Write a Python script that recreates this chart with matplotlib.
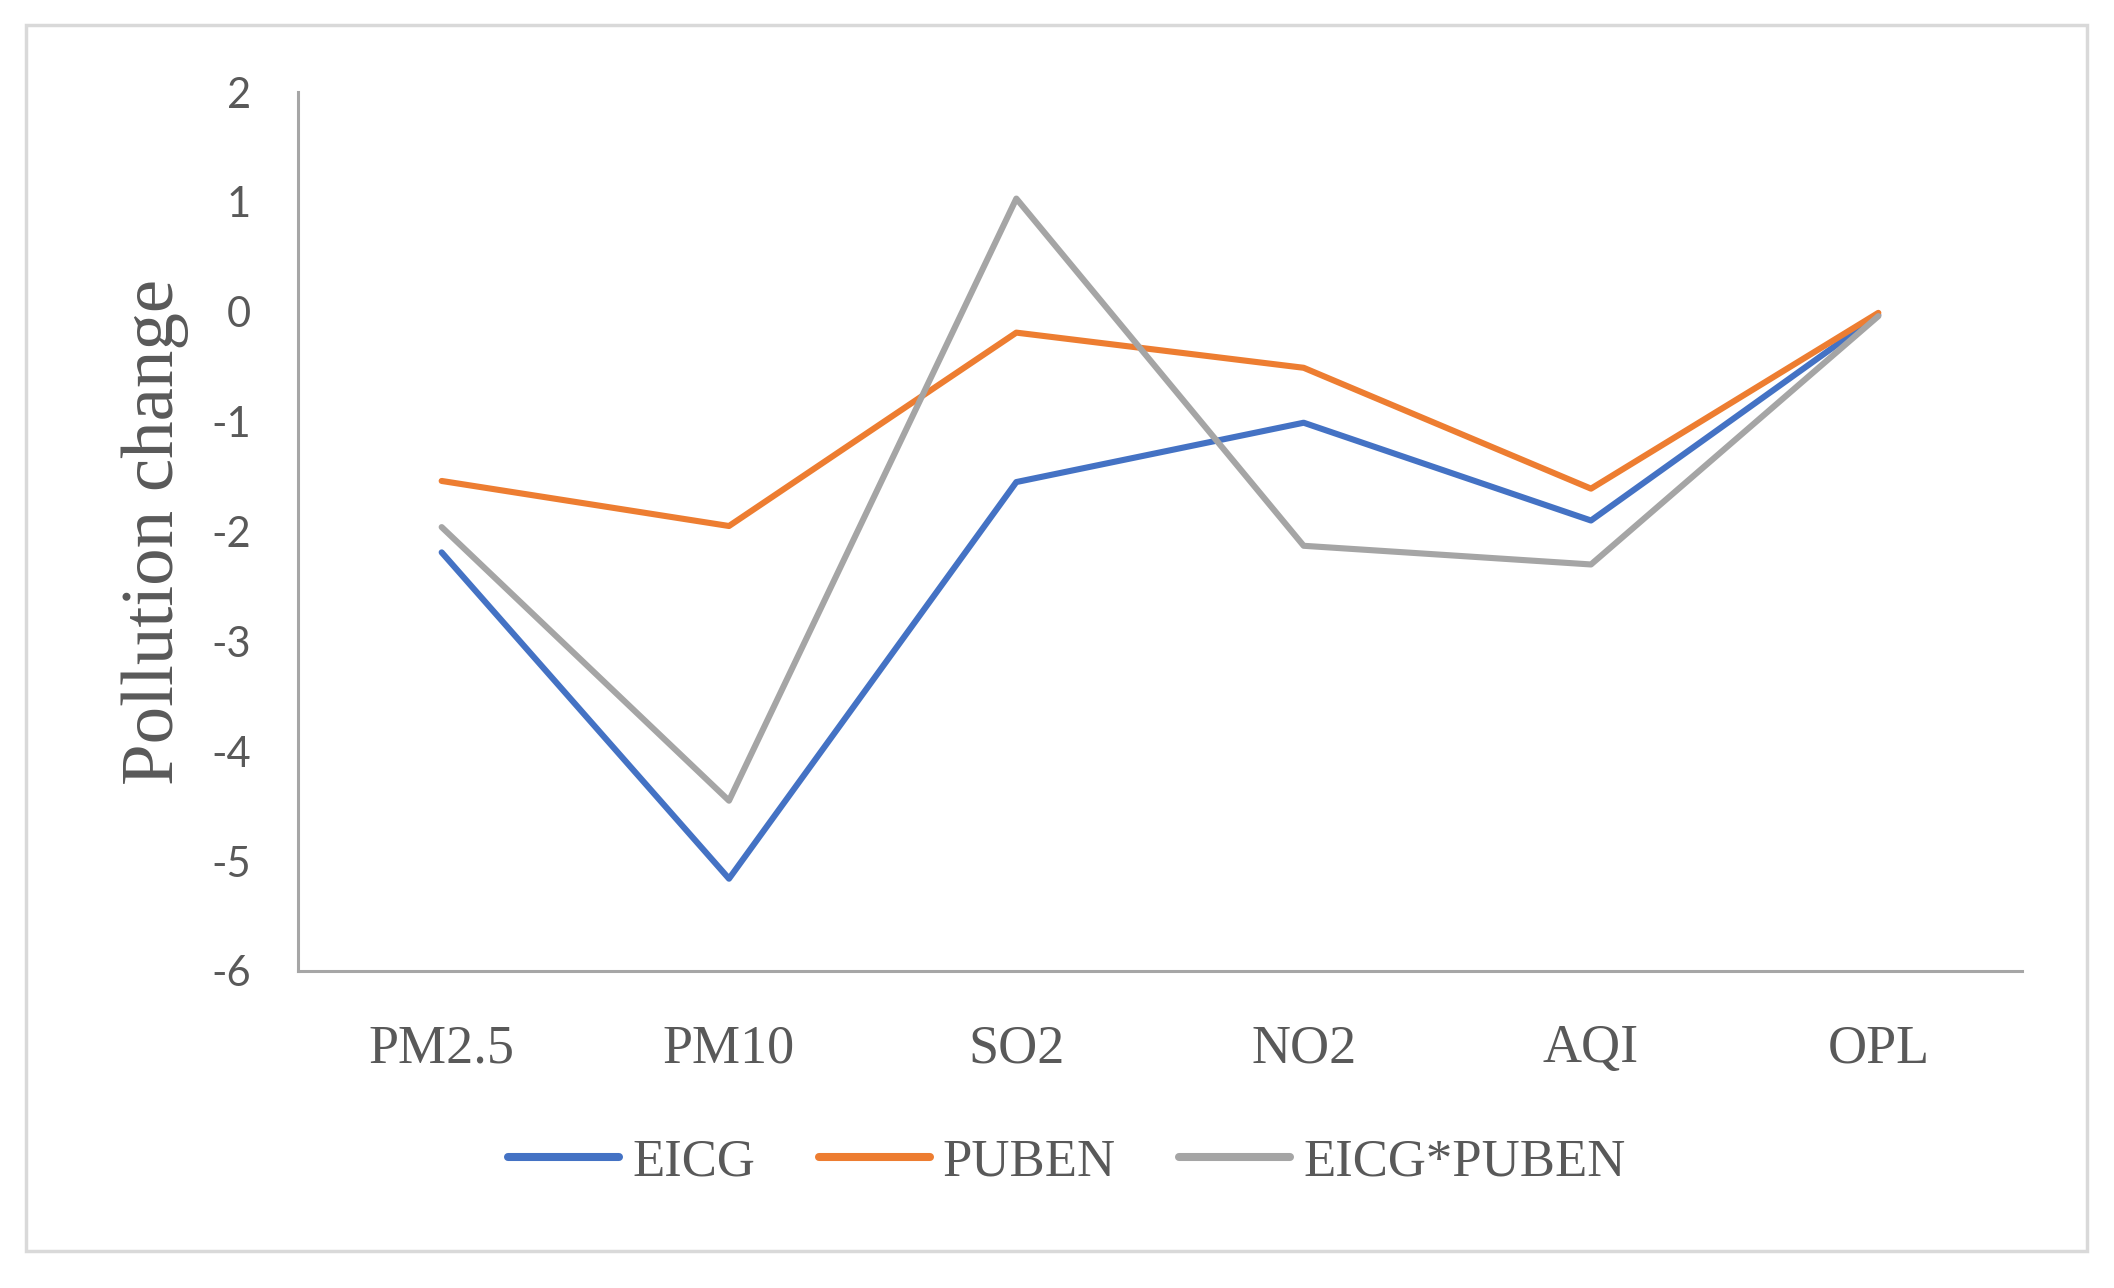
import matplotlib
matplotlib.use("Agg")
import matplotlib.pyplot as plt
from matplotlib.patches import Rectangle

categories = ["PM2.5", "PM10", "SO2", "NO2", "AQI", "OPL"]
eicg = [-2.19, -5.16, -1.55, -1.01, -1.90, -0.03]
puben = [-1.54, -1.95, -0.19, -0.51, -1.61, -0.01]
eicg_puben = [-1.96, -4.45, 1.03, -2.13, -2.30, -0.04]
series_names = ["EICG", "PUBEN", "EICG*PUBEN"]
colors = ["#4472C4", "#ED7D31", "#A5A5A5"]
yticks = [2, 1, 0, -1, -2, -3, -4, -5, -6]

W, H = 2114, 1288
fig = plt.figure(figsize=(W / 100, H / 100), dpi=100)
fig.patch.set_facecolor("white")

# outer chart border
fig.patches.append(Rectangle((26 / W, 1 - 1251 / H), (2087 - 26) / W, (1251 - 25) / H,
                             transform=fig.transFigure, fill=False,
                             edgecolor="#D9D9D9", linewidth=2.5, zorder=0))

ax = fig.add_axes([298 / W, 1 - 971 / H, (2022 - 298) / W, (971 - 92) / H])
x = list(range(len(categories)))
for vals, name, c in zip([eicg, puben, eicg_puben], series_names, colors):
    ax.plot(x, vals, color=c, linewidth=4.4, label=name, solid_joinstyle="round",
            solid_capstyle="round")

ax.set_xlim(-0.5, len(categories) - 0.5)
ax.set_ylim(-6, 2)
ax.set_yticks(yticks)
ax.set_yticklabels([str(v) for v in yticks], family="Lato", fontsize=30, color="#595959")
ax.set_xticks(x)
ax.set_xticklabels(categories, family="Liberation Serif", fontsize=39, color="#595959")
ax.tick_params(axis="y", length=0, pad=34)
ax.tick_params(axis="x", length=0, pad=38)
for s in ["top", "right"]:
    ax.spines[s].set_visible(False)
for s in ["left", "bottom"]:
    ax.spines[s].set_color("#A6A6A6")
    ax.spines[s].set_linewidth(2.2)

ax.set_ylabel("Pollution change", family="Liberation Serif", fontsize=54, color="#595959")
ax.yaxis.set_label_coords((189 - 298) / (2022 - 298), 0.5)

leg = fig.legend(loc="center", bbox_to_anchor=(1067 / W, 1 - 1162 / H), ncol=3,
                 frameon=False, prop={"family": "Liberation Serif", "size": 38},
                 handlelength=2.1, handletextpad=0.25, columnspacing=1.2)
for t in leg.get_texts():
    t.set_color("#595959")
for h in leg.legend_handles:
    h.set_linewidth(5.8)
    h.set_solid_capstyle("round")

fig.savefig("out.png", dpi=100, facecolor="white")
